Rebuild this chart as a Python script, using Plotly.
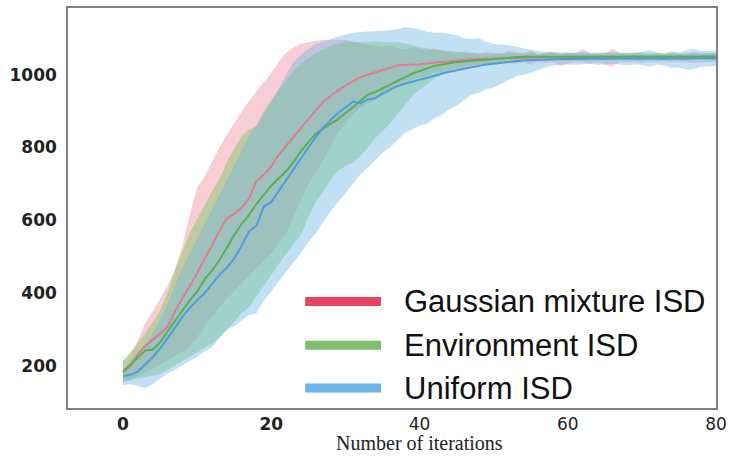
import plotly.graph_objects as go

iterations = list(range(0, 81))

series_names = ["Gaussian mixture ISD", "Environment ISD", "Uniform ISD"]

red_mean = [182, 200, 232, 255, 272, 290, 307, 350, 385, 420,
            455, 495, 530, 570, 605, 618, 635, 660, 708, 725,
            748, 780, 805, 830, 852, 878, 902, 925, 942, 957,
            970, 982, 993, 1000, 1006, 1012, 1018, 1025, 1027, 1027,
            1028, 1031, 1034, 1035, 1036, 1039, 1040, 1042, 1043, 1044,
            1045, 1045, 1046, 1046, 1047, 1046, 1047, 1048, 1047, 1046,
            1047, 1048, 1047, 1046, 1047, 1048, 1047, 1046, 1047, 1048,
            1047, 1046, 1048, 1047, 1046, 1047, 1048, 1046, 1047, 1048,
            1048]
red_upper = [212, 232, 270, 318, 350, 385, 420, 462, 530, 615,
             690, 720, 762, 800, 836, 868, 898, 928, 955, 980,
             1005, 1035, 1060, 1075, 1085, 1090, 1093, 1095, 1096, 1096,
             1095, 1092, 1088, 1082, 1078, 1076, 1080, 1072, 1070, 1075,
             1072, 1068, 1072, 1065, 1062, 1060, 1064, 1060, 1058, 1062,
             1060, 1058, 1065, 1062, 1058, 1066, 1056, 1060, 1063, 1056,
             1060, 1058, 1070, 1060, 1056, 1058, 1071, 1060, 1055, 1058,
             1062, 1055, 1058, 1056, 1060, 1058, 1055, 1062, 1058, 1060,
             1058]
red_lower = [158, 162, 172, 182, 192, 202, 215, 228, 240, 252,
             278, 305, 335, 362, 385, 405, 428, 450, 470, 490,
             510, 535, 565, 610, 655, 700, 730, 765, 800, 840,
             865, 890, 910, 920, 932, 942, 955, 965, 975, 985,
             993, 998, 1005, 1010, 1012, 1015, 1018, 1020, 1022, 1025,
             1028, 1030, 1032, 1030, 1035, 1027, 1035, 1032, 1035, 1025,
             1030, 1036, 1035, 1030, 1035, 1028, 1022, 1035, 1034, 1036,
             1033, 1036, 1035, 1037, 1034, 1036, 1035, 1033, 1036, 1035,
             1036]

green_mean = [185, 205, 225, 243, 245, 265, 295, 325, 352, 380,
              405, 438, 462, 490, 525, 560, 590, 615, 645, 670,
              695, 715, 735, 760, 790, 815, 838, 852, 866, 878,
              895, 910, 928, 945, 952, 962, 972, 982, 993, 1003,
              1010, 1018, 1024, 1028, 1032, 1035, 1036, 1038, 1040, 1041,
              1042, 1044, 1046, 1048, 1049, 1049, 1050, 1049, 1050, 1050,
              1049, 1050, 1050, 1049, 1050, 1050, 1049, 1050, 1049, 1050,
              1050, 1049, 1050, 1050, 1049, 1050, 1050, 1049, 1050, 1050,
              1050]
green_upper = [215, 238, 262, 290, 320, 352, 400, 465, 515, 565,
               605, 640, 680, 712, 760, 795, 830, 850, 858, 900,
               930, 960, 985, 1010, 1030, 1045, 1060, 1070, 1080, 1085,
               1090, 1090, 1088, 1090, 1092, 1090, 1088, 1090, 1085, 1080,
               1075, 1072, 1070, 1068, 1065, 1062, 1060, 1060, 1058, 1057,
               1056, 1058, 1060, 1059, 1058, 1060, 1057, 1058, 1060, 1058,
               1059, 1060, 1058, 1057, 1059, 1060, 1058, 1057, 1059, 1060,
               1058, 1059, 1060, 1058, 1059, 1057, 1060, 1058, 1059, 1060,
               1059]
green_lower = [158, 162, 166, 170, 174, 178, 190, 202, 214, 225,
               238, 250, 262, 280, 300, 322, 345, 362, 390, 420,
               450, 480, 508, 535, 560, 608, 650, 680, 710, 735,
               750, 758, 775, 800, 825, 845, 865, 890, 915, 940,
               958, 972, 990, 1000, 1010, 1018, 1022, 1025, 1028, 1030,
               1032, 1034, 1036, 1037, 1038, 1039, 1040, 1039, 1040, 1041,
               1040, 1041, 1040, 1039, 1040, 1041, 1040, 1039, 1040, 1041,
               1040, 1039, 1041, 1040, 1039, 1040, 1041, 1040, 1039, 1040,
               1040]

blue_mean = [173, 176, 185, 205, 225, 248, 275, 305, 335, 360,
             380, 400, 425, 450, 470, 495, 530, 570, 585, 638,
             650, 680, 712, 740, 770, 800, 828, 855, 875, 895,
             910, 926, 921, 932, 935, 948, 958, 968, 975, 980,
             985, 990, 997, 1003, 1008, 1012, 1016, 1020, 1025, 1028,
             1030, 1033, 1035, 1037, 1039, 1040, 1041, 1042, 1042, 1043,
             1043, 1044, 1043, 1044, 1044, 1043, 1044, 1045, 1044, 1043,
             1044, 1045, 1044, 1044, 1045, 1044, 1044, 1045, 1044, 1045,
             1045]
blue_upper = [190, 212, 238, 262, 290, 328, 370, 420, 468, 510,
              550, 590, 630, 670, 710, 750, 790, 830, 862, 891,
              925, 960, 1000, 1035, 1055, 1070, 1085, 1090, 1098, 1105,
              1110, 1115, 1117, 1118, 1118, 1120, 1122, 1125, 1130, 1128,
              1125, 1118, 1115, 1115, 1112, 1108, 1100, 1098, 1100, 1090,
              1085, 1082, 1080, 1078, 1072, 1068, 1065, 1063, 1062, 1060,
              1061, 1060, 1062, 1060, 1061, 1060, 1062, 1060, 1061, 1060,
              1062, 1068, 1060, 1058, 1065, 1060, 1068, 1070, 1065, 1066,
              1066]
blue_lower = [148, 150, 145, 140, 150, 165, 180, 190, 202, 215,
              225, 240, 252, 275, 300, 310, 325, 340, 345, 380,
              405, 432, 460, 485, 510, 540, 565, 595, 625, 650,
              675, 700, 725, 745, 765, 785, 800, 820, 840, 850,
              860, 865, 880, 890, 905, 915, 930, 945, 950, 960,
              965, 975, 985, 995, 1000, 1005, 1012, 1020, 1025, 1027,
              1028, 1027, 1028, 1030, 1027, 1028, 1030, 1028, 1026, 1028,
              1027, 1022, 1028, 1025, 1018, 1020, 1014, 1015, 1022, 1024,
              1024]

x_tick_vals = [0, 20, 40, 60, 80]
x_tick_text = ["<b>0</b>", "<b>20</b>", "40", "60", "80"]
y_tick_vals = [200, 400, 600, 800, 1000]

fill_colors = ["rgba(235,88,115,0.30)", "rgba(120,200,90,0.45)", "rgba(114,183,230,0.43)"]
line_colors = ["#df7b8e", "#5aae4c", "#4a9ee0"]
legend_colors = ["#e8435f", "#7dbf6a", "#6cb4ea"]

means = [red_mean, green_mean, blue_mean]
uppers = [red_upper, green_upper, blue_upper]
lowers = [red_lower, green_lower, blue_lower]

fig = go.Figure()

for i in range(3):
    fig.add_trace(go.Scatter(
        x=iterations + iterations[::-1],
        y=uppers[i] + lowers[i][::-1],
        fill="toself", fillcolor=fill_colors[i],
        line=dict(width=0), mode="lines",
        hoverinfo="skip", showlegend=False,
    ))

for i in range(3):
    fig.add_trace(go.Scatter(
        x=iterations, y=means[i], mode="lines",
        line=dict(color=line_colors[i], width=2),
        name=series_names[i], showlegend=False,
    ))

# manual legend (wide bars like the original)
legend_rows = [0.266, 0.157, 0.050]
for i in range(3):
    fig.add_shape(type="line", xref="paper", yref="paper",
                  x0=0.366, x1=0.483, y0=legend_rows[i], y1=legend_rows[i],
                  line=dict(color=legend_colors[i], width=9))
    fig.add_annotation(xref="paper", yref="paper", x=0.515, y=legend_rows[i],
                       text=series_names[i], showarrow=False,
                       xanchor="left", yanchor="middle",
                       font=dict(family="Liberation Sans", size=31, color="#111"))

fig.add_annotation(xref="paper", yref="paper", x=0.543, y=-0.1185,
                   text="Number of iterations", showarrow=False,
                   xanchor="center", yanchor="bottom", borderpad=0,
                   font=dict(family="Liberation Serif", size=20, color="#222"))

fig.update_layout(
    width=737, height=456,
    margin=dict(l=68, r=21, t=6, b=48),
    paper_bgcolor="white", plot_bgcolor="white",
    showlegend=False,
)
fig.update_xaxes(
    range=[-7.42, 80], tickvals=x_tick_vals, ticktext=x_tick_text,
    showgrid=False, zeroline=False,
    showline=True, mirror=True, linecolor="#808080", linewidth=1.5,
    ticks="",
    tickfont=dict(family="DejaVu Sans", size=17, color="#222"),
)
fig.update_yaxes(
    range=[85, 1183], tickvals=y_tick_vals,
    showgrid=False, zeroline=False,
    showline=True, mirror=True, linecolor="#808080", linewidth=1.5,
    ticks="", ticklabelstandoff=6,
    tickfont=dict(family="DejaVu Sans", size=17, color="#222", weight="bold"),
)

fig.write_html("out.html", config={"displayModeBar": False},
               post_script="document.body.style.margin='0';document.body.style.padding='0';")
